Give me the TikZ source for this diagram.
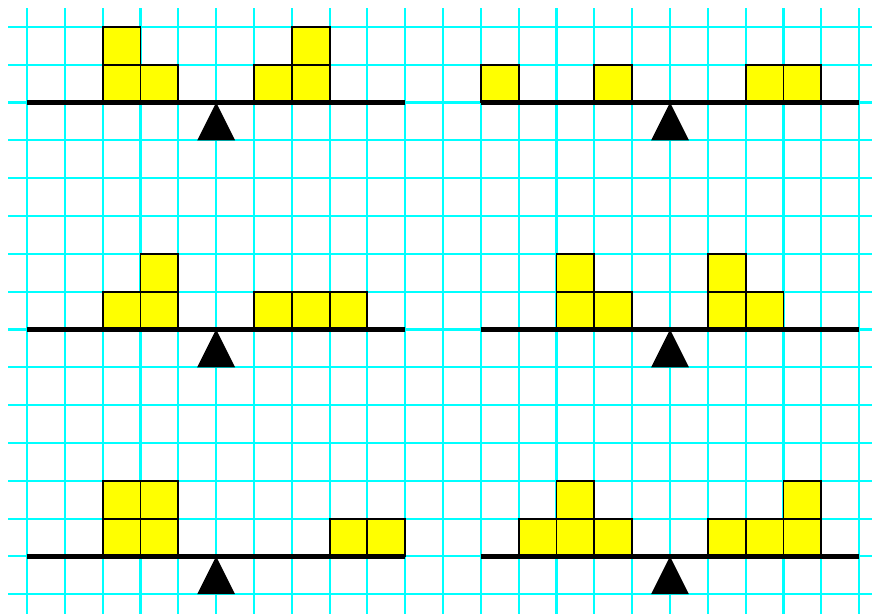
\documentclass[tikz,border=0pt]{standalone}
\usepackage{tikz}
\definecolor{gridCyan}{RGB}{0,255,255}
\definecolor{blockYellow}{RGB}{255,255,0}
\tikzset{
    gridline/.style={gridCyan, line width=1.6pt},
    block/.style={fill=blockYellow, draw=black, line width=1.4pt},
    beam/.style={line width=3.6pt},
}

\begin{document}
\begin{tikzpicture}
    \useasboundingbox (-0.714, -1.506) rectangle (22.34, 14.71);

    \foreach \x in {0, ..., 22}
        \draw[gridline] (\x, -1.7) -- (\x, 14.5);
    \foreach \y in {-1, ..., 14}
        \draw[gridline] (-0.5, \y) -- (22.6, \y);

    \foreach \x/\y in {2/12, 2/13, 3/12, 6/12, 7/12, 7/13,
                       12/12, 15/12, 19/12, 20/12,
                       2/6, 3/6, 3/7, 6/6, 7/6, 8/6,
                       14/6, 14/7, 15/6, 18/6, 18/7, 19/6,
                       2/0, 2/1, 3/0, 3/1, 8/0, 9/0,
                       13/0, 14/0, 14/1, 15/0, 18/0, 19/0, 20/0, 20/1}
        \draw[block] (\x, \y) rectangle ++(1, 1);

    \foreach \x in {0, 12}
        \foreach \y in {0, 6, 12} {
            \draw[beam] (\x, \y) -- ++(10, 0);
            \fill (\x+5, \y) -- ++(-0.5, -1) -- ++(1, 0) -- cycle;
        }
\end{tikzpicture}
\end{document}
